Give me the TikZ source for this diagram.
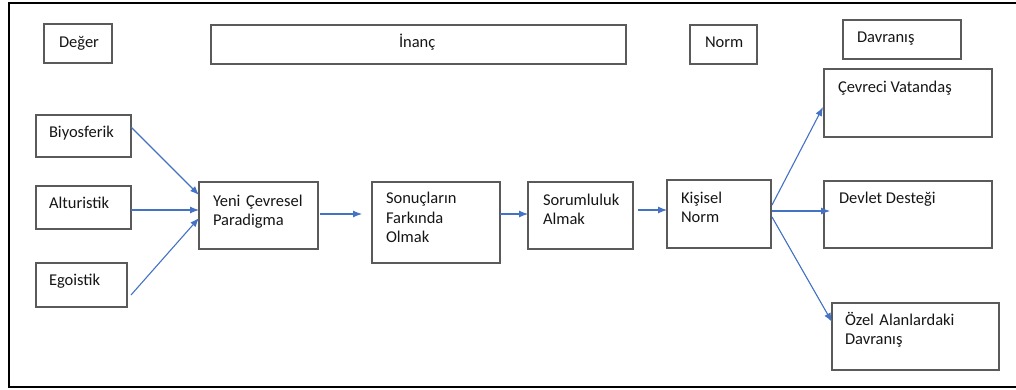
\documentclass[tikz,border=0pt]{standalone}
\usepackage{fontspec}
\setmainfont{Carlito}
\usetikzlibrary{arrows.meta,calc}
\definecolor{boxline}{HTML}{5A5A5A}
\definecolor{arrowblue}{HTML}{4472C4}
\definecolor{txtcol}{HTML}{151515}
\begin{document}
\begin{tikzpicture}[x=1pt,y=-1pt,
  box/.style={draw=boxline,line width=1.3pt,inner sep=0pt,outer sep=0pt,anchor=north west},
  lbl/.style={inner sep=0pt,outer sep=0pt,anchor=base west,text=txtcol,font=\fontsize{16.5}{19.5}\selectfont},
  mlbl/.style={lbl,text width=150pt,align=left},
  conn/.style={draw=arrowblue,line width=1.1pt,-{Latex[length=9pt,width=7pt]}}]
\useasboundingbox (0,0) rectangle (1016,390);
\draw[line width=2.6pt,black] (9,3) rectangle (1030,387);
% header boxes
\node[box,minimum width=68pt,minimum height=39pt] (deg) at (44,24) {};
\node[box,minimum width=415pt,minimum height=39pt] (inanc) at (211,25) {};
\node[box,minimum width=67pt,minimum height=39pt] (norm) at (690,25) {};
\node[box,minimum width=118pt,minimum height=39pt] (davr) at (843,20) {};
\node[lbl] (deg-t) at (59,48) {Değer};
\node[lbl] (inanc-t) at (399,48) {İnanç};
\node[lbl] (norm-t) at (705,48) {Norm};
\node[lbl] (davr-t) at (857,43) {Davranış};
% value boxes
\node[box,minimum width=95pt,minimum height=42pt] (bio) at (36,115) {};
\node[box,minimum width=95pt,minimum height=43pt] (alt) at (36,186) {};
\node[box,minimum width=91pt,minimum height=44pt] (ego) at (36,263) {};
\node[lbl] (bio-t) at (49,138) {Biyosferik};
\node[lbl] (alt-t) at (49,208) {Alturistik};
\node[lbl] (ego-t) at (49,285) {Egoistik};
% chain boxes
\node[box,minimum width=119pt,minimum height=67pt] (yeni) at (199,182) {};
\node[box,minimum width=128pt,minimum height=81pt] (son) at (372,182) {};
\node[box,minimum width=105pt,minimum height=67pt] (sor) at (528,182) {};
\node[box,minimum width=104pt,minimum height=68pt] (kis) at (667,180) {};
\node[mlbl] (yeni-t) at (213,206) {Yeni Çevresel\\Paradigma};
\node[mlbl] (son-t) at (386,204) {Sonuçların\\Farkında\\Olmak};
\node[mlbl] (sor-t) at (543,205) {Sorumluluk\\Almak};
\node[mlbl] (kis-t) at (681,203) {Kişisel\\Norm};
% behaviour boxes
\node[box,minimum width=168pt,minimum height=68pt] (cev) at (824,69) {};
\node[box,minimum width=168pt,minimum height=67pt] (dev) at (824,181) {};
\node[box,minimum width=167pt,minimum height=67pt] (oz) at (832,303) {};
\node[lbl] (cev-t) at (838,93) {Çevreci Vatandaş};
\node[lbl] (dev-t) at (839,203) {Devlet Desteği};
\node[mlbl] (oz-t) at (845,325) {Özel Alanlardaki\\Davranış};
% connectors
\draw[conn] ($(bio.north east)+(0,12)$) -- ($(yeni.north west)+(0,13)$);
\draw[conn] ($(alt.north east)+(0,24)$) -- ($(yeni.north west)+(0,28)$);
\draw[conn] ($(ego.north east)+(4,32)$) -- ($(yeni.north west)+(0,36)$);
\draw[conn] ($(yeni.north east)+(2,32)$) -- ($(son.north west)+(-10,32)$);
\draw[conn] ($(son.north east)+(0,32)$) -- ($(sor.north west)+(0,32)$);
\draw[conn] ($(sor.north east)+(5,28)$) -- ($(kis.north west)+(0,30)$);
\draw[conn] ($(kis.north east)+(1,25)$) -- ($(cev.north west)+(-1,38)$);
\draw[conn] ($(kis.north east)+(1,31)$) -- ($(dev.north west)+(6,30)$);
\draw[conn] ($(kis.north east)+(1,37)$) -- ($(oz.north west)+(0,19)$);
\end{tikzpicture}
\end{document}
